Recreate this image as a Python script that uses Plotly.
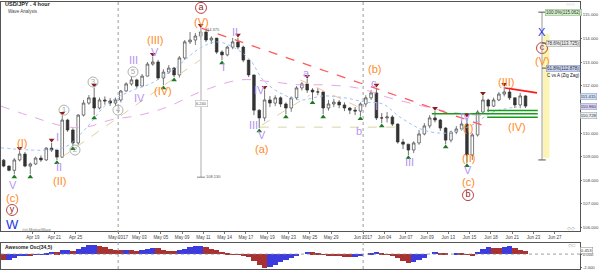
import pandas as pd
import plotly.graph_objects as go

# ---------------- data (12-hour bars) ----------------
first_open = 108.85
closes = [108.60, 108.42, 108.86, 109.11, 108.60, 108.69, 108.94, 108.86, 109.36, 109.28,
          108.98, 110.55, 110.13, 109.58, 110.76, 111.27, 111.49, 111.06, 111.40, 111.36,
          111.27, 111.40, 111.78, 112.08, 112.25, 111.99, 112.41, 112.92, 113.01, 112.33,
          112.58, 112.75, 112.46, 113.18, 113.86, 113.94, 114.11, 114.28, 113.94, 114.02,
          113.43, 113.31, 113.64, 113.86, 113.64, 113.09, 112.46, 110.97, 110.64, 111.40,
          111.27, 111.49, 111.23, 111.06, 111.49, 111.91, 112.08, 111.82, 111.74, 111.74,
          111.06, 111.23, 111.31, 111.19, 111.06, 110.97, 110.93, 111.23, 111.49, 111.70,
          110.64, 110.64, 110.68, 110.38, 109.62, 109.53, 109.28, 109.58, 109.96, 110.30,
          110.64, 110.55, 110.21, 109.70, 110.04, 110.17, 110.38, 109.07, 109.92, 110.89,
          111.40, 111.14, 111.40, 111.65, 111.74, 111.49, 111.19, 111.57, 111.14]
highs = [108.90, 108.62, 108.94, 109.24, 109.20, 108.75, 109.00, 109.05, 109.40, 109.58,
         109.25, 110.72, 110.60, 110.20, 110.80, 111.40, 111.61, 111.91, 111.50, 111.55,
         111.48, 111.50, 111.82, 112.15, 112.41, 112.30, 112.50, 113.01, 113.22, 113.10,
         112.70, 112.88, 112.80, 113.26, 113.94, 114.28, 114.24, 114.45, 114.30, 114.10,
         113.95, 113.50, 113.70, 114.03, 114.03, 113.70, 113.10, 112.40, 111.00, 111.82,
         111.57, 111.60, 111.55, 111.30, 111.55, 111.99, 112.16, 112.29, 111.90, 111.91,
         111.70, 111.40, 111.45, 111.40, 111.30, 111.10, 111.10, 111.30, 111.60, 111.82,
         111.91, 110.85, 110.89, 110.75, 110.40, 109.75, 109.50, 109.65, 110.13, 110.42,
         110.76, 110.93, 110.60, 110.25, 110.10, 110.30, 110.51, 110.64, 110.00, 110.97,
         111.57, 111.45, 111.50, 111.74, 111.95, 111.91, 111.50, 111.70, 111.60]
lows = [108.55, 108.38, 108.26, 108.80, 108.55, 108.26, 108.65, 108.78, 108.82, 109.20,
        108.86, 108.95, 110.05, 109.45, 109.50, 110.70, 111.20, 110.76, 111.00, 111.20,
        111.15, 111.14, 111.30, 111.75, 112.00, 111.91, 111.95, 112.40, 112.85, 112.25,
        112.03, 112.50, 112.37, 112.35, 113.10, 113.77, 113.73, 113.95, 113.85, 113.77,
        113.35, 113.09, 113.25, 113.55, 113.55, 113.00, 112.37, 110.76, 110.21, 110.50,
        111.10, 111.14, 111.10, 110.80, 110.90, 111.40, 111.80, 111.70, 111.40, 111.60,
        110.80, 110.95, 111.10, 111.05, 110.93, 110.80, 110.76, 110.72, 111.10, 111.40,
        110.55, 110.42, 110.45, 110.30, 109.55, 109.32, 109.07, 109.15, 109.50, 109.90,
        110.20, 110.45, 110.09, 109.53, 109.60, 109.95, 110.10, 108.73, 108.86, 109.85,
        110.85, 110.89, 111.10, 111.35, 111.55, 111.40, 111.06, 111.05, 111.06]
ao_values = [-0.90, -0.80, -0.50, -0.20, -0.15, -0.20, -0.10, -0.05, 0.15, 0.30,
             0.28, 0.55, 0.60, 0.50, 0.70, 1.00, 1.25, 1.35, 1.20, 1.00,
             0.80, 0.60, 0.55, 0.60, 0.55, 0.50, 0.60, 0.75, 0.90, 0.85,
             0.65, 0.50, 0.40, 0.55, 0.80, 1.00, 1.10, 1.15, 1.00, 0.80,
             0.55, 0.30, 0.05, -0.05, -0.10, -0.15, -0.40, -1.00, -1.60, -2.00,
             -1.80, -1.50, -1.20, -0.90, -0.60, -0.30, 0.00, 0.30, 0.25, 0.10,
             -0.05, -0.15, -0.20, -0.25, -0.35, -0.45, -0.40, -0.20, 0.00, 0.20,
             0.30, 0.10, -0.10, -0.30, -0.60, -0.95, -1.30, -1.20, -0.90, -0.50,
             0.00, 0.30, 0.20, 0.05, 0.00, 0.10, 0.05, -0.10, -0.25, 0.30,
             0.75, 1.00, 0.95, 0.90, 1.05, 1.10, 0.90, 0.65, 0.45]

tick_labels = ["Apr 19", "Apr 21", "Apr 25", "May 2017", "May 03", "May 05", "May 09", "May 11",
               "May 14", "May 17", "May 19", "May 23", "May 25", "May 29", "Jun 2017", "Jun 04",
               "Jun 07", "Jun 09", "Jun 13", "Jun 15", "Jun 18", "Jun 21", "Jun 23", "Jun 27"]
tick_dates = ["2017-04-19", "2017-04-21", "2017-04-25", "2017-05-01", "2017-05-03", "2017-05-05",
              "2017-05-09", "2017-05-11", "2017-05-15", "2017-05-17", "2017-05-19", "2017-05-23",
              "2017-05-25", "2017-05-29", "2017-06-01", "2017-06-05", "2017-06-07", "2017-06-09",
              "2017-06-13", "2017-06-15", "2017-06-19", "2017-06-21", "2017-06-23", "2017-06-27"]
price_ticks = [106, 107, 108, 109, 110, 112, 113, 114, 115]

tops_idx = [3, 9, 11, 17, 28, 37, 44, 49, 57, 70, 81, 87, 90, 94]
bottoms_idx = [2, 5, 10, 13, 17, 30, 32, 41, 48, 53, 58, 60, 67, 71, 76, 83, 87]

# moving averages read at sample positions (position in 12h-bar units, price)
blue_ma_pos = [0, 9.2, 12.4, 16.2, 19.9, 24.8, 28.0, 32.7, 37.4, 40.6, 43.9, 46.8, 49.2, 52.4,
               56.2, 60.5, 64.6, 68.4, 71.7, 74.9, 79.3, 83.8, 88.1, 92.4, 96.9]
blue_ma_val = [109.37, 109.28, 109.45, 110.26, 111.23, 111.82, 112.08, 112.75, 113.60, 113.86,
               113.60, 113.09, 112.25, 111.70, 111.40, 111.57, 111.49, 111.31, 111.23, 110.68,
               110.13, 110.00, 110.30, 110.89, 111.10]
pink_ma_pos = [0, 6.0, 12.4, 16.2, 20.5, 26.1, 31.2, 37.4, 44.9, 51.1, 56.2, 60.5, 66.9, 73.1,
               79.3, 84.3, 91.3]
pink_ma_val = [111.14, 110.68, 110.26, 110.26, 110.55, 110.76, 111.10, 111.74, 112.25, 112.16,
               112.04, 112.04, 111.91, 111.48, 111.14, 110.89, 110.72]

# ---------------- helpers ----------------
BDAYS = pd.bdate_range("2017-04-14", periods=70)


def t_at(pos):
    d = int(pos // 2)
    return BDAYS[d] + pd.Timedelta(hours=(pos - 2 * d) * 12)


times = [t_at(i + 0.5) for i in range(len(closes))]
opens = [first_open] + closes[:-1]
highs_f = [max(h, o, c) for h, o, c in zip(highs, opens, closes)]
lows_f = [min(l, o, c) for l, o, c in zip(lows, opens, closes)]

ORANGE = "#ff8a1f"
PURPLE = "#b893f2"
DARKRED = "#8b1c1c"
BLUE = "#2233ee"
FONT = "Liberation Sans"

fig = go.Figure()

fig.add_trace(go.Candlestick(
    x=times, open=opens, high=highs_f, low=lows_f, close=closes,
    increasing=dict(line=dict(color="#444444", width=0.7), fillcolor="#ffffff"),
    decreasing=dict(line=dict(color="#333333", width=0.7), fillcolor="#333333"),
    whiskerwidth=0, showlegend=False, hoverinfo="skip", xaxis="x", yaxis="y"))

# moving averages
fig.add_trace(go.Scatter(x=[t_at(p) for p in blue_ma_pos], y=blue_ma_val, mode="lines",
                         line=dict(color="#9cc3f5", width=1, dash="dot", shape="spline"),
                         showlegend=False, hoverinfo="skip"))
fig.add_trace(go.Scatter(x=[t_at(p) for p in pink_ma_pos], y=pink_ma_val, mode="lines",
                         line=dict(color="#e7a6e8", width=1, dash="dash", shape="spline"),
                         showlegend=False, hoverinfo="skip"))

# trend / channel lines
lines = [
    ([11.46, 37.4], [108.98, 113.10], "#d9d3a0", 1, "dash"),
    ([48.6, 74.9], [110.25, 110.25], "#d9d3a0", 1, "dash"),
    ([49.0, 58.0], [110.34, 111.61], "#d9d3a0", 1, "dash"),
    ([56.2, 68.4], [112.25, 110.97], "#f5c39a", 1, "dash"),
    ([37.5, 90.3], [114.45, 110.34], "#ff5a5a", 1.3, "dash"),
    ([94.65, 100.66], [111.91, 111.70], "#ff1a1a", 1.6, "solid"),
    ([91.3, 100.8], [110.95, 110.95], "#1a9a1a", 1.5, "solid"),
    ([80.9, 100.8], [110.82, 110.82], "#1a9a1a", 1.5, "solid"),
    ([91.3, 100.8], [110.67, 110.67], "#1a9a1a", 1.5, "solid"),
]
for xs, ys, col, w, dash in lines:
    fig.add_trace(go.Scatter(x=[t_at(p) for p in xs], y=ys, mode="lines",
                             line=dict(color=col, width=w, dash=dash),
                             showlegend=False, hoverinfo="skip"))

# pivot markers
fig.add_trace(go.Scatter(x=[times[i] for i in tops_idx], y=[highs_f[i] + 0.12 for i in tops_idx],
                         mode="markers", marker=dict(symbol="triangle-down", size=5, color=DARKRED),
                         showlegend=False, hoverinfo="skip"))
fig.add_trace(go.Scatter(x=[times[i] for i in bottoms_idx], y=[lows_f[i] - 0.12 for i in bottoms_idx],
                         mode="markers", marker=dict(symbol="triangle-up", size=5, color="#1f7a1f"),
                         showlegend=False, hoverinfo="skip"))

# circled labels
gray_circ = [("1", 11.83, 110.97), ("2", 13.9, 109.28), ("3", 17.28, 112.16),
             ("4", 21.97, 110.97), ("5", 24.79, 112.59)]
red_circ = [("a", 37.56, 115.30), ("y", 2.07, 106.74), ("b", 87.7, 107.37), ("c", 101.6, 113.60)]
fig.add_trace(go.Scatter(x=[t_at(p) for _, p, _ in gray_circ], y=[v for _, _, v in gray_circ],
                         mode="markers+text", text=[t for t, _, _ in gray_circ],
                         textposition="middle center",
                         textfont=dict(color="#a8a8a8", size=8, family=FONT),
                         marker=dict(symbol="circle-open", size=10, color="#b0b0b0", line=dict(width=1)),
                         showlegend=False, hoverinfo="skip"))
fig.add_trace(go.Scatter(x=[t_at(p) for _, p, _ in red_circ], y=[v for _, _, v in red_circ],
                         mode="markers+text", text=[t for t, _, _ in red_circ],
                         textposition="middle center",
                         textfont=dict(color=DARKRED, size=9, family=FONT),
                         marker=dict(symbol="circle-open", size=11, color="#c04040", line=dict(width=1)),
                         showlegend=False, hoverinfo="skip"))

# AO bars
ao_colors = ["#a83232"] + ["#3b3be0" if ao_values[i] >= ao_values[i - 1] else "#a83232"
                           for i in range(1, len(ao_values))]
fig.add_trace(go.Bar(x=times, y=ao_values, marker=dict(color=ao_colors, line=dict(width=0)),
                     xaxis="x2", yaxis="y2", showlegend=False, hoverinfo="skip"))

# wave labels
wave_labels = [
    ("(I)", 3.94, 109.58, ORANGE, 11), ("V", 2.25, 107.82, PURPLE, 11),
    ("(c)", 2.07, 107.26, ORANGE, 11), ("W", 2.07, 106.12, BLUE, 13),
    ("I", 10.7, 109.83, PURPLE, 11), ("II", 10.9, 108.56, PURPLE, 11),
    ("(II)", 10.9, 107.97, ORANGE, 11), ("III", 24.79, 113.09, PURPLE, 11),
    ("IV", 26.1, 111.48, PURPLE, 11), ("(III)", 28.92, 113.94, ORANGE, 11),
    ("V", 28.92, 113.43, PURPLE, 11), ("(IV)", 30.42, 111.78, ORANGE, 11),
    ("(V)", 37.56, 114.70, ORANGE, 11), ("I", 41.69, 112.80, PURPLE, 11),
    ("II", 43.94, 114.28, PURPLE, 11), ("IV", 48.5, 111.82, PURPLE, 11),
    ("III", 47.5, 110.34, PURPLE, 11), ("V", 49.0, 109.92, PURPLE, 11),
    ("(a)", 49.0, 109.32, ORANGE, 11), ("a", 57.46, 112.54, PURPLE, 11),
    ("b", 67.2, 110.09, PURPLE, 11), ("(b)", 70.2, 112.71, ORANGE, 11),
    ("c", 70.0, 112.12, PURPLE, 11), ("I", 70.6, 111.14, PURPLE, 11),
    ("III", 76.8, 108.77, PURPLE, 11), ("IV", 87.3, 110.68, PURPLE, 11),
    ("(I)", 87.7, 110.21, ORANGE, 11), ("(II)", 87.7, 108.94, ORANGE, 11),
    ("V", 87.7, 108.43, PURPLE, 11), ("(c)", 87.7, 107.92, ORANGE, 11),
    ("(III)", 94.84, 112.16, ORANGE, 11), ("(IV)", 96.9, 110.25, ORANGE, 11),
    ("X", 101.6, 114.28, BLUE, 11), ("(V)", 101.6, 113.05, ORANGE, 11),
]
annotations = []
for txt, p, v, col, sz in wave_labels:
    annotations.append(dict(x=t_at(p), y=v, xref="x", yref="y", text=txt, showarrow=False,
                            font=dict(color=col, size=sz, family=FONT)))

# fibonacci projection boxes
fib_boxes = [("100.0%(115.062)", 115.12, "#d6f0cc", "#7fb87f"),
             ("78.6%(113.725)", 113.81, "#eeeeee", "#999999"),
             ("61.8%(112.878)", 112.75, "#c9d3f2", "#8090c0")]
for txt, v, bg, bc in fib_boxes:
    annotations.append(dict(x=t_at(105.6), y=v, xref="x", yref="y", text=txt, showarrow=False,
                            font=dict(size=4.5, color="#333", family=FONT), bgcolor=bg,
                            bordercolor=bc, borderwidth=0.5, borderpad=0.5))
annotations.append(dict(x=t_at(105.6), y=112.45, xref="x", yref="y", text="C vs A (Zig Zag)",
                        showarrow=False, font=dict(size=4.5, color="#111", family=FONT)))

# measurement labels
annotations += [
    dict(x=t_at(37.56), y=111.27, xref="x", yref="y", text="6.240", showarrow=False,
         font=dict(size=4, color="#555", family=FONT), bgcolor="#ffffff", bordercolor="#aaa",
         borderwidth=0.5, borderpad=0.5),
    dict(x=t_at(38.1), y=108.18, xref="x", yref="y", text="108.130", showarrow=False, xanchor="left",
         font=dict(size=4, color="#555", family=FONT)),
    dict(x=t_at(38.0), y=114.38, xref="x", yref="y", text="114.375", showarrow=False, xanchor="left",
         font=dict(size=4, color="#555", family=FONT)),
]

# current price boxes on right axis
for txt, v, bg in [("111.415", 111.53, "#d2e2f7"), ("110.960", 111.14, "#d9d2f5"),
                   ("110.728", 110.76, "#eeeeee")]:
    annotations.append(dict(x=1.0, y=v, xref="paper", yref="y", text=txt, showarrow=False,
                            xanchor="left", font=dict(size=4.3, color="#333", family=FONT),
                            bgcolor=bg, bordercolor="#8899bb", borderwidth=0.5, borderpad=0.3))
annotations.append(dict(x=1.0, y=0.5, xref="paper", yref="y2", text="0.453", showarrow=False,
                        xanchor="left", font=dict(size=4.3, color="#333", family=FONT),
                        bgcolor="#ffffff", bordercolor="#888", borderwidth=0.5, borderpad=0.3))


# texts in paper coordinates
def py(px_y):
    return (269 - px_y) / 267.0


annotations += [
    dict(x=0.004, y=py(4), xref="paper", yref="paper", text="<b>USD/JPY . 4 hour</b>", showarrow=False,
         xanchor="left", yanchor="middle", font=dict(size=5.5, color="#222", family=FONT)),
    dict(x=0.008, y=py(11.5), xref="paper", yref="paper", text="Wave Analysis", showarrow=False,
         xanchor="left", yanchor="middle", font=dict(size=4.5, color="#444", family=FONT)),
    dict(x=0.004, y=py(247), xref="paper", yref="paper", text="<b>Awesome Osc(34,5)</b>", showarrow=False,
         xanchor="left", yanchor="middle", font=dict(size=5, color="#222", family=FONT)),
    dict(x=0.033, y=py(229.6), xref="paper", yref="paper", text="◎◎ MotiveWave", showarrow=False,
         xanchor="left", yanchor="middle", font=dict(size=4, color="#777", family=FONT)),
    dict(x=0.995, y=py(4), xref="paper", yref="paper", text="○○○", showarrow=False,
         xanchor="right", yanchor="middle", font=dict(size=5, color="#999", family=FONT)),
    dict(x=0.995, y=py(228), xref="paper", yref="paper", text="◇◇", showarrow=False,
         xanchor="right", yanchor="middle", font=dict(size=5, color="#999", family=FONT)),
    dict(x=0.995, y=py(245), xref="paper", yref="paper", text="◇□", showarrow=False,
         xanchor="right", yanchor="middle", font=dict(size=5, color="#999", family=FONT)),
]

shapes = []
# month dotted separators
for d in ["2017-05-01", "2017-06-01"]:
    shapes.append(dict(type="line", xref="x", yref="paper", x0=d, x1=d, y0=0, y1=1,
                       line=dict(color="#9a9a9a", width=1, dash="dot")))
# measurement vertical line
shapes.append(dict(type="line", xref="x", yref="y", x0=t_at(37.56), x1=t_at(37.56), y0=108.13, y1=114.45,
                   line=dict(color="#c8c8c8", width=1.5)))
shapes.append(dict(type="line", xref="x", yref="y", x0=t_at(36.8), x1=t_at(38.3), y0=108.13, y1=108.13,
                   line=dict(color="#888", width=1)))
# projection band and line
shapes.append(dict(type="rect", xref="x", yref="y", x0=t_at(101.8), x1=t_at(103.0), y0=108.95, y1=114.2,
                   fillcolor="#fbf4b5", line=dict(width=0), layer="below"))
shapes.append(dict(type="line", xref="x", yref="y", x0=t_at(101.6), x1=t_at(101.6), y0=108.86, y1=115.12,
                   line=dict(color="#999", width=1)))
for v, x0, x1 in [(115.12, 100.9, 102.3), (108.86, 100.9, 102.3), (113.81, 101.6, 103.2),
                  (112.75, 101.6, 103.2)]:
    shapes.append(dict(type="line", xref="x", yref="y", x0=t_at(x0), x1=t_at(x1), y0=v, y1=v,
                       line=dict(color="#555", width=1)))
# AO zero line
shapes.append(dict(type="line", xref="paper", yref="y2", x0=0, x1=1, y0=0, y1=0,
                   line=dict(color="#888", width=0.8, dash="dot")))

rb = [dict(bounds=["sat", "mon"])]
xr = [t_at(0), t_at(108.73)]
fig.update_layout(
    width=600, height=271, margin=dict(l=1, r=20, t=2, b=2),
    paper_bgcolor="#ffffff", plot_bgcolor="#ffffff",
    showlegend=False, bargap=0,
    font=dict(family=FONT, size=5, color="#333"),
    xaxis=dict(domain=[0, 1], anchor="y", range=xr, rangebreaks=rb, rangeslider=dict(visible=False),
               tickvals=pd.to_datetime(tick_dates), ticktext=tick_labels, tickangle=0,
               ticks="outside", ticklen=2,
               tickcolor="#777", tickfont=dict(size=4.5, color="#444", family=FONT),
               showline=True, linecolor="#555", linewidth=1, mirror=True, showgrid=False,
               automargin=False),
    xaxis2=dict(domain=[0, 1], anchor="y2", matches="x", range=xr, rangebreaks=rb,
                showticklabels=False, showline=True, linecolor="#555", linewidth=1, mirror=True,
                showgrid=False, automargin=False),
    yaxis=dict(domain=[0.1423, 1], anchor="x", side="right", range=[105.85, 115.55],
               tickvals=price_ticks, ticktext=["%.3f" % v for v in price_ticks],
               ticks="outside", ticklen=1, tickcolor="#777",
               tickfont=dict(size=4.3, color="#444", family=FONT), showline=True, linecolor="#555",
               linewidth=1, mirror=True, showgrid=False, zeroline=False, automargin=False),
    yaxis2=dict(domain=[0, 0.0974], anchor="x2", side="right", range=[-2.15, 1.6],
                tickvals=[0, -2], ticktext=["0.000", "-2.000"], ticks="outside", ticklen=1,
                tickcolor="#777", tickfont=dict(size=4.2, color="#444", family=FONT),
                showline=True, linecolor="#555", linewidth=1, mirror=True, showgrid=False,
                zeroline=False, automargin=False),
    annotations=annotations, shapes=shapes,
)

fig.write_html("out.html")
